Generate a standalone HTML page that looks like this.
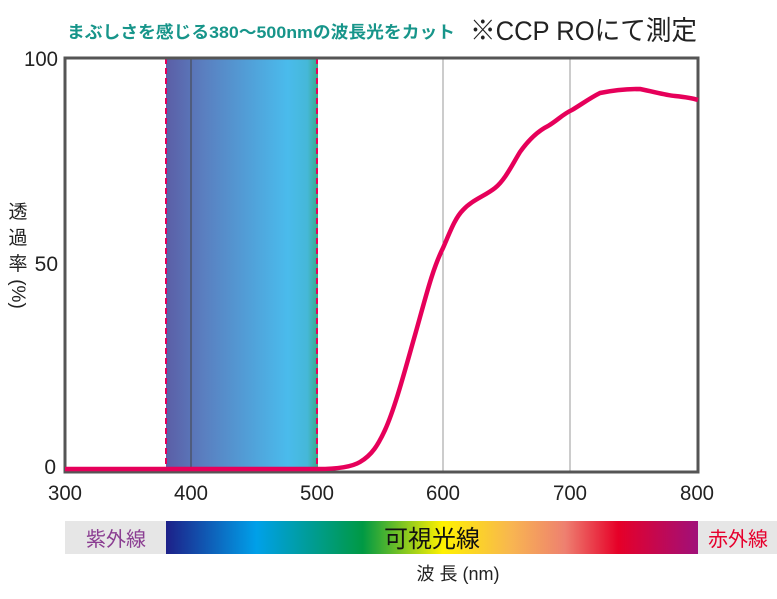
<!DOCTYPE html>
<html><head><meta charset="utf-8"><style>
body{margin:0;background:#fff;}
svg text{font-family:"Liberation Sans","Noto Sans CJK JP",sans-serif;}
</style></head><body>
<svg width="777" height="594" viewBox="0 0 777 594" xmlns="http://www.w3.org/2000/svg">
<defs>
<linearGradient id="band" x1="0" x2="1" y1="0" y2="0">
<stop offset="0" stop-color="#5b5ea6"/>
<stop offset="0.25" stop-color="#5a7fc0"/>
<stop offset="0.8" stop-color="#4abbec"/>
<stop offset="0.93" stop-color="#45b8d8"/>
<stop offset="1" stop-color="#3aa88a"/>
</linearGradient>
<linearGradient id="spec" x1="0" x2="1" y1="0" y2="0">
<stop offset="0" stop-color="#1d2088"/>
<stop offset="0.17" stop-color="#00a0e9"/>
<stop offset="0.37" stop-color="#009944"/>
<stop offset="0.52" stop-color="#fff100"/>
<stop offset="0.65" stop-color="#f8b551"/>
<stop offset="0.75" stop-color="#ee8070"/>
<stop offset="0.85" stop-color="#e60028"/>
<stop offset="1" stop-color="#a0107a"/>
</linearGradient>
</defs>
<text x="67" y="38" font-size="17" font-weight="bold" fill="#17958a" textLength="388" lengthAdjust="spacingAndGlyphs">まぶしさを感じる380〜500nmの波長光をカット</text>
<text x="470" y="40" font-size="27" fill="#222" textLength="227" lengthAdjust="spacingAndGlyphs">※CCP ROにて測定</text>
<rect x="166" y="58" width="152" height="414" fill="url(#band)"/>
<line x1="191" y1="58" x2="191" y2="472" stroke="#444" stroke-width="1"/>
<line x1="443" y1="58" x2="443" y2="472" stroke="#999" stroke-width="1"/>
<line x1="570" y1="58" x2="570" y2="472" stroke="#999" stroke-width="1"/>
<line x1="166" y1="58" x2="166" y2="472" stroke="#e6005a" stroke-width="2" stroke-dasharray="6,4"/>
<line x1="317" y1="58" x2="317" y2="472" stroke="#e6005a" stroke-width="2" stroke-dasharray="6,4"/>
<rect x="65" y="58" width="633" height="414" fill="none" stroke="#555" stroke-width="3"/>
<path d="M65,469 L318,469 C330,469 350,468 360,462 C372,455 378,445 385,430 C395,408 405,370 415,335 C425,300 432,270 443,248 C450,232 455,218 463,210 C472,200 485,196 495,188 C505,180 512,165 520,152 C530,138 540,130 548,126 C558,120 563,114 572,110 C582,104 590,98 600,93 C615,90 625,89 640,89 C655,92 665,95 675,96 C685,97 692,98 698,100" fill="none" stroke="#e6005a" stroke-width="4.5" stroke-linejoin="round"/>
<g font-size="21" fill="#222" text-anchor="end">
<text x="58" y="66" textLength="34" lengthAdjust="spacingAndGlyphs">100</text><text x="58" y="271">50</text><text x="56" y="474">0</text>
</g>
<g font-size="21" fill="#222" text-anchor="middle">
<text x="65" y="500" textLength="34" lengthAdjust="spacingAndGlyphs">300</text><text x="191" y="500" textLength="34" lengthAdjust="spacingAndGlyphs">400</text><text x="317" y="500" textLength="34" lengthAdjust="spacingAndGlyphs">500</text>
<text x="443" y="500" textLength="34" lengthAdjust="spacingAndGlyphs">600</text><text x="570" y="500" textLength="34" lengthAdjust="spacingAndGlyphs">700</text><text x="697" y="500" textLength="34" lengthAdjust="spacingAndGlyphs">800</text>
</g>
<g font-size="19" fill="#222" text-anchor="middle">
<text x="18" y="218">透</text><text x="18" y="244">過</text><text x="18" y="270">率</text>
<text x="18" y="300" transform="rotate(90 18 294)">(%)</text>
</g>
<rect x="65" y="521" width="712" height="33" fill="#e6e6e6"/>
<rect x="166" y="521" width="532" height="33" fill="url(#spec)"/>
<text x="116" y="546" font-size="20" fill="#8b3e92" text-anchor="middle">紫外線</text>
<text x="432" y="547" font-size="24" fill="#111" text-anchor="middle">可視光線</text>
<text x="738" y="546" font-size="20" fill="#e6002d" text-anchor="middle">赤外線</text>
<text x="458" y="580" font-size="18" fill="#222" text-anchor="middle">波 長 (nm)</text>
</svg>
</body></html>
